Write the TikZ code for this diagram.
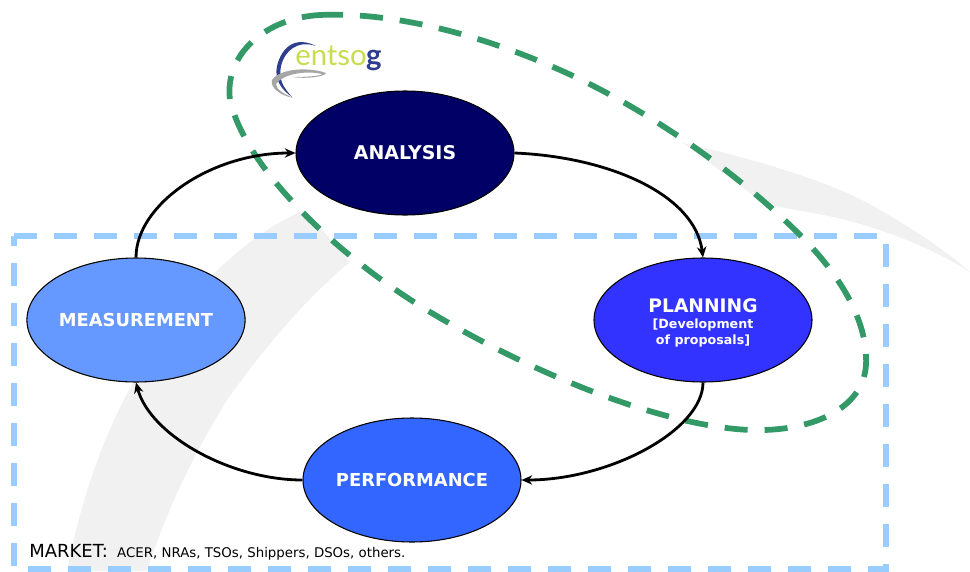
\documentclass[tikz,border=0pt]{standalone}
\usepackage{fontspec}
\setmainfont{DejaVu Sans}
\newfontfamily\logofont{Lato}
\usetikzlibrary{arrows.meta,shapes.geometric}
\definecolor{cgreen}{HTML}{339966}
\definecolor{cblue}{HTML}{99CCFF}
\definecolor{cswoosh}{HTML}{F1F1F1}
\definecolor{cnavy}{HTML}{2E3D8C}
\tikzset{
  phase/.style={ellipse,draw=black,line width=0.8pt,minimum width=163.5pt,minimum height=93pt,inner sep=0pt,text=white,font=\bfseries\fontsize{13.4}{15}\selectfont,align=center},
  flow/.style={draw=black,line width=2.1pt,-{Stealth[length=8pt,width=7pt]}},
  region/.style={line width=4.3pt,dash pattern=on 17.3pt off 12.7pt}
}
\begin{document}
\begin{tikzpicture}[x=0.75pt,y=-0.75pt]
\useasboundingbox (0,0) rectangle (970,571);
% swooshes
\fill[cswoosh] (67,571) .. controls (85,480) and (115,400) .. (170,325)
  .. controls (200,285) and (245,235) .. (305,210)
  -- (350,262) .. controls (310,295) and (270,340) .. (227,400)
  .. controls (190,460) and (165,515) .. (147,571) -- cycle;
\fill[cswoosh] (683,143) .. controls (760,160) and (840,185) .. (880,210)
  .. controls (915,230) and (945,250) .. (970,272)
  .. controls (935,250) and (880,225) .. (813,213)
  .. controls (795,210) and (780,207) .. (763,203) -- cycle;
% logo
\fill[cnavy] (316,46) .. controls (296,36) and (282,46) .. (277,66) .. controls (274,80) and (282,90) .. (292,97)
  .. controls (284,88) and (278,80) .. (281,66) .. controls (285,50) and (298,40) .. (316,46) -- cycle;
\fill[gray!70] (272,80) .. controls (280,68) and (310,67) .. (326,73) .. controls (325,77) and (305,79) .. (293,77) .. controls (305,77) and (322,76) .. (322,74) .. controls (310,71) and (285,72) .. (276,84) .. controls (276,90) and (285,94) .. (293,98) .. controls (280,95) and (270,88) .. (272,80) -- cycle;
\node[inner sep=0pt,anchor=base west] (logo) at (295,65) {\fontsize{22}{24}\selectfont\logofont\textcolor[HTML]{C8DC50}{entso}\hspace{-0.5pt}\textcolor{cnavy}{\bfseries g}};
% market box
\draw[cblue,region] (14,236) -- (886,236) -- (886,569) -- (14,569) -- cycle;
% green loop
\draw[cgreen,region] (320,15)
  .. controls (385,12) and (470,30) .. (560,70)
  .. controls (650,110) and (740,175) .. (800,235)
  .. controls (845,280) and (868,325) .. (866,365)
  .. controls (863,410) and (810,432) .. (750,430)
  .. controls (660,426) and (530,372) .. (430,312)
  .. controls (340,258) and (246,170) .. (230,100)
  .. controls (224,55) and (265,18) .. (320,15) -- cycle;
% nodes
\node[phase,fill={rgb,255:red,0;green,0;blue,102}] (analysis) at (405,153) {\fontsize{14.2}{15}\selectfont ANALYSIS};
\node[phase,fill={rgb,255:red,51;green,51;blue,255}] (planning) at (703,320) {\rule{0pt}{14pt}\fontsize{14}{15}\selectfont PLANNING\\[-3pt]\fontsize{9.5}{12}\selectfont [Development\\[-3pt]\fontsize{9.5}{12}\selectfont of proposals]};
\node[phase,fill={rgb,255:red,51;green,102;blue,255}] (performance) at (412,480) {PERFORMANCE};
\node[phase,fill={rgb,255:red,102;green,153;blue,255}] (measurement) at (136,320) {MEASUREMENT};
% connectors
\draw[flow] (analysis.east) .. controls (610,157) and (695,195) .. (planning.north);
\draw[flow] (planning.south) .. controls (703,430) and (610,480) .. (performance.east);
\draw[flow] (performance.west) .. controls (230,480) and (150,435) .. (measurement.south);
\draw[flow] (measurement.north) .. controls (136,205) and (210,153) .. (analysis.west);
% market label
\node[anchor=base west,inner sep=0pt] (market) at (29,557) {\fontsize{13.5}{15}\selectfont MARKET:\hspace{7pt}\fontsize{10}{11}\selectfont ACER, NRAs, TSOs, Shippers, DSOs, others.};
\end{tikzpicture}
\end{document}
